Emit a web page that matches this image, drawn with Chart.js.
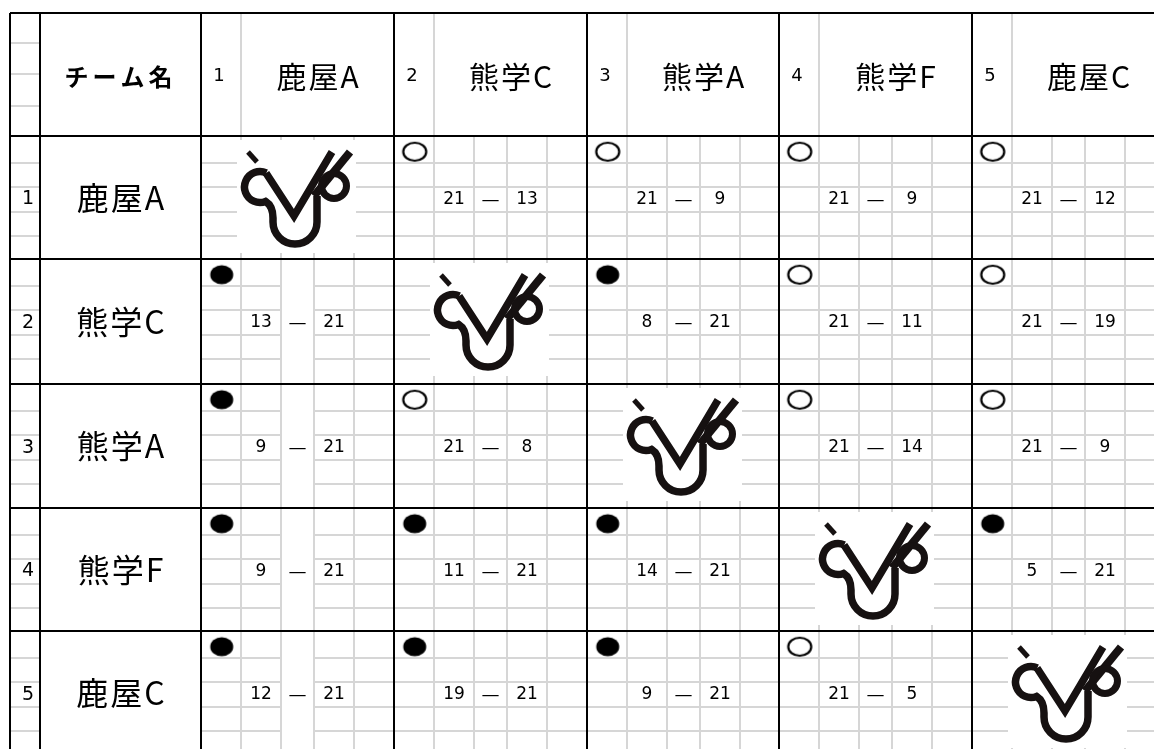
<!DOCTYPE html>
<html>
<head>
<meta charset="utf-8">
<script src="https://cdn.jsdelivr.net/npm/chart.js@4"></script>
<style>
  html, body { margin: 0; padding: 0; background: #fff; }
  #wrap { width: 1154px; height: 749px; position: relative; }
</style>
</head>
<body>
<div id="wrap"><canvas id="league"></canvas></div>
<script>
// league data
const headerLabel = 'チーム名';
const teamNo = ['1', '2', '3', '4', '5'];
const teams = ['鹿屋A', '熊学C', '熊学A', '熊学F', '鹿屋C'];

// points scored by the row team / by the column team
const ownScore = [
    [null, 21, 21, 21, 21],
    [13, null, 8, 21, 21],
    [9, 21, null, 21, 21],
    [9, 11, 14, null, 5],
    [12, 19, 9, 21, null]
];
const oppScore = [
    [null, 13, 9, 9, 12],
    [21, null, 21, 11, 19],
    [21, 8, null, 14, 9],
    [21, 21, 21, null, 21],
    [21, 21, 21, 5, null]
];
const results = [
    ['', '○', '○', '○', '○'],
    ['●', '', '●', '○', '○'],
    ['●', '○', '', '○', '○'],
    ['●', '●', '●', '', '●'],
    ['●', '●', '●', '○', '']
];

// sheet layout (pixels)
const W = 1154, H = 749;
const colX = [10, 40, 201, 394, 587, 779, 972, 1165];
const rowY = [13, 136, 259, 384, 508, 631, 755];
const subCols = [40, 80, 113, 153];
const subRows = [27, 51, 76, 100];
const headSubRows = [30, 61, 93];

const cjk = '"Noto Sans CJK JP", sans-serif';
const latin = '"DejaVu Sans", sans-serif';

// marker images for win / loss
function markCanvas(filled) {
    const c = document.createElement('canvas');
    c.width = 28;
    c.height = 22;
    const g = c.getContext('2d');
    g.beginPath();
    g.ellipse(14, 11, 11.5, filled ? 9.5 : 9, 0, 0, Math.PI * 2);
    if (filled) {
        g.fillStyle = '#000';
        g.fill();
    } else {
        g.fillStyle = '#fff';
        g.fill();
        g.lineWidth = 2.2;
        g.strokeStyle = '#000';
        g.stroke();
    }
    return c;
}

const winPts = [];
const lossPts = [];
results.forEach((row, r) => {
    row.forEach((res, c) => {
        const p = { x: colX[c + 2] + 20.7, y: rowY[r + 1] + 15.7 };
        if (res === '○') winPts.push(p);
        if (res === '●') lossPts.push(p);
    });
});

function drawLogo(ctx, ox, oy) {
    ctx.save();
    ctx.translate(ox, oy);
    ctx.fillStyle = '#fff';
    ctx.fillRect(36, 4, 119, 113);
    ctx.strokeStyle = '#161111';
    ctx.lineCap = 'butt';
    ctx.lineJoin = 'miter';

    // accent
    ctx.lineWidth = 5;
    ctx.beginPath();
    ctx.moveTo(47, 16);
    ctx.lineTo(56, 26);
    ctx.stroke();

    // C loop into U
    ctx.lineWidth = 7.5;
    ctx.beginPath();
    ctx.arc(59, 51, 15.5, -1.15, 1.2, true);
    ctx.quadraticCurveTo(72, 70, 72, 82);
    ctx.arc(94, 86, 22, Math.PI, 0, true);
    ctx.lineTo(116, 60);
    ctx.stroke();

    // V
    ctx.beginPath();
    ctx.moveTo(65, 37);
    ctx.lineTo(93, 80);
    ctx.lineTo(131, 16);
    ctx.stroke();

    // right loop with diagonal
    ctx.lineWidth = 8;
    ctx.beginPath();
    ctx.moveTo(149, 16);
    ctx.lineTo(113, 60);
    ctx.stroke();
    ctx.lineWidth = 7;
    ctx.beginPath();
    ctx.arc(133, 50, 12.5, 0, Math.PI * 2);
    ctx.stroke();
    ctx.restore();
}

const sheetPlugin = {
    id: 'sheet',
    beforeDatasetsDraw(chart) {
        const ctx = chart.ctx;
        const px = v => chart.scales.x.getPixelForValue(v);
        const py = v => chart.scales.y.getPixelForValue(v);
        const line = (x0, y0, x1, y1) => {
            ctx.beginPath();
            ctx.moveTo(px(x0), py(y0));
            ctx.lineTo(px(x1), py(y1));
            ctx.stroke();
        };
        ctx.save();

        // thin grid
        ctx.strokeStyle = '#d6d6d6';
        ctx.lineWidth = 2;
        headSubRows.forEach(o => line(colX[0], rowY[0] + o, colX[1], rowY[0] + o));
        for (let r = 0; r < 5; r++) {
            const top = rowY[r + 1], bot = rowY[r + 2];
            subRows.forEach(o => line(colX[0], top + o, colX[1], top + o));
            for (let c = 0; c < 5; c++) {
                const left = colX[c + 2], right = colX[c + 3];
                subCols.forEach(o => line(left + o, top, left + o, bot));
                subRows.forEach(o => {
                    if (c === 0) {
                        line(left, top + o, left + subCols[1], top + o);
                        line(left + subCols[2], top + o, right, top + o);
                    } else {
                        line(left, top + o, right, top + o);
                    }
                });
            }
        }
        for (let c = 0; c < 5; c++) {
            line(colX[c + 2] + subCols[0], rowY[0], colX[c + 2] + subCols[0], rowY[1]);
        }

        // logos on the diagonal
        for (let i = 0; i < 5; i++) {
            drawLogo(ctx, px(colX[i + 2]), py(rowY[i + 1]));
        }

        // thick borders
        ctx.strokeStyle = '#000';
        ctx.lineWidth = 2;
        colX.forEach(v => line(v, rowY[0], v, rowY[6]));
        rowY.forEach(v => line(colX[0], v, colX[7], v));

        // texts
        ctx.fillStyle = '#000';
        ctx.textBaseline = 'middle';
        ctx.textAlign = 'center';
        const headMid = (rowY[0] + rowY[1]) / 2 + 2;

        ctx.font = 'bold 24px ' + cjk;
        ctx.letterSpacing = '4px';
        ctx.fillText(headerLabel, px((colX[1] + colX[2]) / 2), py(headMid));

        for (let c = 0; c < 5; c++) {
            const left = colX[c + 2];
            ctx.letterSpacing = '0px';
            ctx.font = '18px ' + latin;
            ctx.fillText(teamNo[c], px(left + 18), py(headMid));
            ctx.letterSpacing = '2px';
            ctx.font = '30px ' + cjk;
            ctx.fillText(teams[c], px((left + subCols[0] + colX[c + 3]) / 2 + 1), py(headMid));
        }

        for (let r = 0; r < 5; r++) {
            const top = rowY[r + 1];
            const mid = (top + rowY[r + 2]) / 2;
            ctx.letterSpacing = '0px';
            ctx.textAlign = 'right';
            ctx.font = '19px ' + latin;
            ctx.fillText(teamNo[r], px(colX[1] - 6), py(mid + 2));
            ctx.textAlign = 'center';
            ctx.letterSpacing = '2px';
            ctx.font = '32px ' + cjk;
            ctx.fillText(teams[r], px((colX[1] + colX[2]) / 2 + 1), py(mid));

            ctx.letterSpacing = '0px';
            for (let c = 0; c < 5; c++) {
                if (ownScore[r][c] === null) continue;
                const left = colX[c + 2];
                const sy = py(top + 64);
                ctx.font = '17px ' + latin;
                ctx.fillText(String(ownScore[r][c]), px(left + 60), sy);
                ctx.fillText(String(oppScore[r][c]), px(left + 133), sy);
                ctx.font = '18px ' + latin;
                ctx.fillText('—', px(left + 96.5), sy);
            }
        }
        ctx.restore();
    }
};

const config = {
    type: 'scatter',
    data: {
        datasets: [{
            label: 'win',
            data: winPts,
            pointStyle: markCanvas(false),
            radius: 10,
            clip: false
        }, {
            label: 'loss',
            data: lossPts,
            pointStyle: markCanvas(true),
            radius: 10,
            clip: false
        }]
    },
    options: {
        responsive: true,
        maintainAspectRatio: false,
        animation: false,
        events: [],
        layout: { padding: 0, autoPadding: false },
        scales: {
            x: { type: 'linear', min: 0, max: W, display: false },
            y: { type: 'linear', min: 0, max: H, reverse: true, display: false }
        },
        plugins: {
            legend: { display: false },
            tooltip: { enabled: false }
        }
    },
    plugins: [sheetPlugin]
};

const sheet = new Chart(document.getElementById('league'), config);
</script>
</body>
</html>
